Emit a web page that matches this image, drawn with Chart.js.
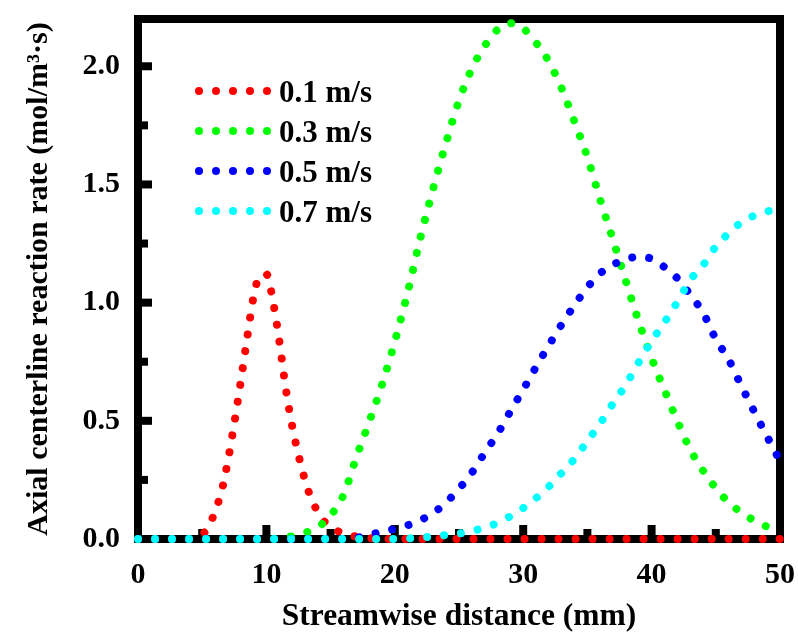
<!DOCTYPE html>
<html lang="en">
<head>
    <meta charset="UTF-8">
    <title>Axial centerline reaction rate</title>
    <script src="https://cdn.jsdelivr.net/npm/chart.js"></script>
    <style>
        body {
            margin: 0;
            padding: 0;
            background-color: #fff;
        }
        #chart {
            display: block;
        }
    </style>
</head>
<body>
    <canvas id="chart" width="798" height="643"></canvas>
    <script>
        // series labels and colours
        const seriesLabels = ['0.1 m/s', '0.3 m/s', '0.5 m/s', '0.7 m/s'];
        const seriesColors = ['#ff0000', '#00ff00', '#0000ff', '#00ffff'];

        // 0.1 m/s has its own sampling (narrow peak)
        const redX = [0, 4, 5, 5.5, 6, 6.5, 7, 7.5, 8, 8.5, 9, 9.5, 10, 10.5, 11, 11.5, 12, 12.5, 13, 13.5, 14, 14.5, 15, 16, 17, 18, 20, 30, 40, 50];
        const redY = [0, 0, 0.02, 0.05, 0.118, 0.2, 0.33, 0.49, 0.665, 0.85, 1.025, 1.115, 1.12, 1.01, 0.84, 0.64, 0.48, 0.355, 0.25, 0.17, 0.115, 0.075, 0.05, 0.024, 0.01, 0.004, 0, 0, 0, 0];

        // streamwise distance (mm) for the other three series
        const distX = [0, 1, 2, 3, 4, 5, 6, 7, 8, 9, 10, 11, 12, 13, 14, 15, 16, 17, 18, 19, 20, 21, 22, 23, 24, 25,
                       26, 27, 28, 29, 30, 31, 32, 33, 34, 35, 36, 37, 38, 39, 40, 41, 42, 43, 44, 45, 46, 47, 48, 49, 50];
        const greenY = [0, 0, 0, 0, 0, 0, 0, 0, 0, 0, 0, 0.003, 0.012, 0.026, 0.05, 0.1, 0.185, 0.345, 0.495, 0.652, 0.835, 1.043, 1.275, 1.485, 1.678, 1.855,
                        1.99, 2.086, 2.155, 2.182, 2.16, 2.1, 2.02, 1.906, 1.765, 1.615, 1.435, 1.265, 1.09, 0.92, 0.765, 0.63, 0.5, 0.38, 0.29, 0.215, 0.155, 0.112, 0.078, 0.052, 0.034];
        const blueY = [0, 0, 0, 0, 0, 0, 0, 0, 0, 0, 0, 0, 0, 0, 0, 0, 0, 0.005, 0.016, 0.031, 0.043, 0.058, 0.08, 0.11, 0.155, 0.213,
                       0.28, 0.365, 0.445, 0.54, 0.632, 0.728, 0.82, 0.908, 0.99, 1.065, 1.124, 1.16, 1.185, 1.193, 1.186, 1.15, 1.103, 1.034, 0.958, 0.846, 0.759, 0.647, 0.538, 0.433, 0.33];
        const cyanY = [0, 0, 0, 0, 0, 0, 0, 0, 0, 0, 0, 0, 0, 0, 0, 0, 0, 0, 0, 0, 0, 0.002, 0.006, 0.011, 0.017, 0.023,
                       0.034, 0.048, 0.068, 0.096, 0.131, 0.173, 0.222, 0.28, 0.34, 0.414, 0.49, 0.574, 0.653, 0.748, 0.837, 0.917, 1.002, 1.095, 1.158, 1.237, 1.293, 1.34, 1.368, 1.386, 1.393];

        // tick values
        const xTicks = [0, 10, 20, 30, 40, 50];
        const xMinorTicks = [5, 15, 25, 35, 45];
        const yTicks = [0, 0.5, 1.0, 1.5, 2.0];
        const yMinorTicks = [0.25, 0.75, 1.25, 1.75];

        const serif = "'Liberation Serif', 'Times New Roman', serif";

        function toPoints(xs, ys) {
            return xs.map((x, i) => ({ x: x, y: ys[i] }));
        }

        function dottedSet(idx, points, order) {
            return {
                label: seriesLabels[idx],
                data: points,
                borderColor: seriesColors[idx],
                backgroundColor: seriesColors[idx],
                borderWidth: 8,
                borderDash: [0.01, 17],
                borderCapStyle: 'round',
                borderJoinStyle: 'round',
                pointRadius: 0,
                cubicInterpolationMode: 'monotone',
                clip: false,
                order: order
            };
        }

        // frame + inward ticks, drawn under the dots
        const framePlugin = {
            id: 'frame',
            beforeDatasetsDraw(chart) {
                const ctx = chart.ctx;
                const a = chart.chartArea;
                const xs = chart.scales.x;
                const ys = chart.scales.y;
                ctx.save();
                ctx.strokeStyle = '#000';
                ctx.lineWidth = 8;
                ctx.strokeRect(a.left, a.top, a.right - a.left, a.bottom - a.top);
                ctx.lineCap = 'butt';
                function xTick(v, len) {
                    const px = xs.getPixelForValue(v);
                    ctx.beginPath();
                    ctx.moveTo(px, a.bottom);
                    ctx.lineTo(px, a.bottom - len);
                    ctx.stroke();
                }
                function yTick(v, len) {
                    const py = ys.getPixelForValue(v);
                    ctx.beginPath();
                    ctx.moveTo(a.left, py);
                    ctx.lineTo(a.left + len, py);
                    ctx.stroke();
                }
                xTicks.forEach(v => xTick(v, 14));
                xMinorTicks.forEach(v => xTick(v, 10));
                yTicks.forEach(v => yTick(v, 14));
                yMinorTicks.forEach(v => yTick(v, 10));
                ctx.restore();
            },
            afterDraw(chart) {
                // legend inside the plot, top left
                const ctx = chart.ctx;
                ctx.save();
                ctx.font = 'bold 31px ' + serif;
                ctx.textAlign = 'left';
                ctx.textBaseline = 'alphabetic';
                for (let i = 0; i < seriesLabels.length; i++) {
                    const y = 91 + i * 40;
                    ctx.fillStyle = seriesColors[i];
                    for (let k = 0; k < 5; k++) {
                        ctx.beginPath();
                        ctx.arc(199 + k * 17, y, 4, 0, Math.PI * 2);
                        ctx.fill();
                    }
                    ctx.fillStyle = '#000';
                    ctx.fillText(seriesLabels[i], 279, y + 10.5);
                }
                ctx.restore();
            }
        };

        new Chart(document.getElementById('chart').getContext('2d'), {
            type: 'line',
            data: {
                datasets: [
                    dottedSet(0, toPoints(redX, redY), 4),
                    dottedSet(1, toPoints(distX, greenY), 3),
                    dottedSet(2, toPoints(distX, blueY), 2),
                    dottedSet(3, toPoints(distX, cyanY), 1)
                ]
            },
            options: {
                responsive: false,
                animation: false,
                devicePixelRatio: 1,
                layout: {
                    padding: { left: 0, right: 18, top: 19, bottom: 0 }
                },
                plugins: {
                    legend: { display: false },
                    tooltip: { enabled: false }
                },
                scales: {
                    x: {
                        type: 'linear',
                        min: 0,
                        max: 50,
                        afterBuildTicks: scale => { scale.ticks = xTicks.map(v => ({ value: v })); },
                        afterFit: scale => {
                            scale.height = 104;
                            scale.paddingLeft = 0;
                            scale.paddingRight = 0;
                        },
                        grid: { display: false, drawTicks: false },
                        border: { display: false },
                        ticks: {
                            color: '#000',
                            padding: 18,
                            maxRotation: 0,
                            autoSkip: false,
                            font: { family: serif, size: 30, weight: 'bold' }
                        },
                        title: {
                            display: true,
                            text: 'Streamwise distance (mm)',
                            color: '#000',
                            padding: { top: 0, bottom: 7 },
                            font: { family: serif, size: 31.5, weight: 'bold' }
                        }
                    },
                    y: {
                        type: 'linear',
                        min: 0,
                        max: 2.2,
                        afterBuildTicks: scale => { scale.ticks = yTicks.map(v => ({ value: v })); },
                        afterFit: scale => {
                            scale.width = 138;
                            scale.paddingTop = 0;
                            scale.paddingBottom = 0;
                        },
                        grid: { display: false, drawTicks: false },
                        border: { display: false },
                        ticks: {
                            color: '#000',
                            padding: 18,
                            callback: v => v.toFixed(1),
                            font: { family: serif, size: 30, weight: 'bold' }
                        },
                        title: {
                            display: true,
                            text: 'Axial centerline reaction rate (mol/m³·s)',
                            color: '#000',
                            padding: { top: 21, bottom: 0 },
                            font: { family: serif, size: 30, weight: 'bold' }
                        }
                    }
                }
            },
            plugins: [framePlugin]
        });
    </script>
</body>
</html>
